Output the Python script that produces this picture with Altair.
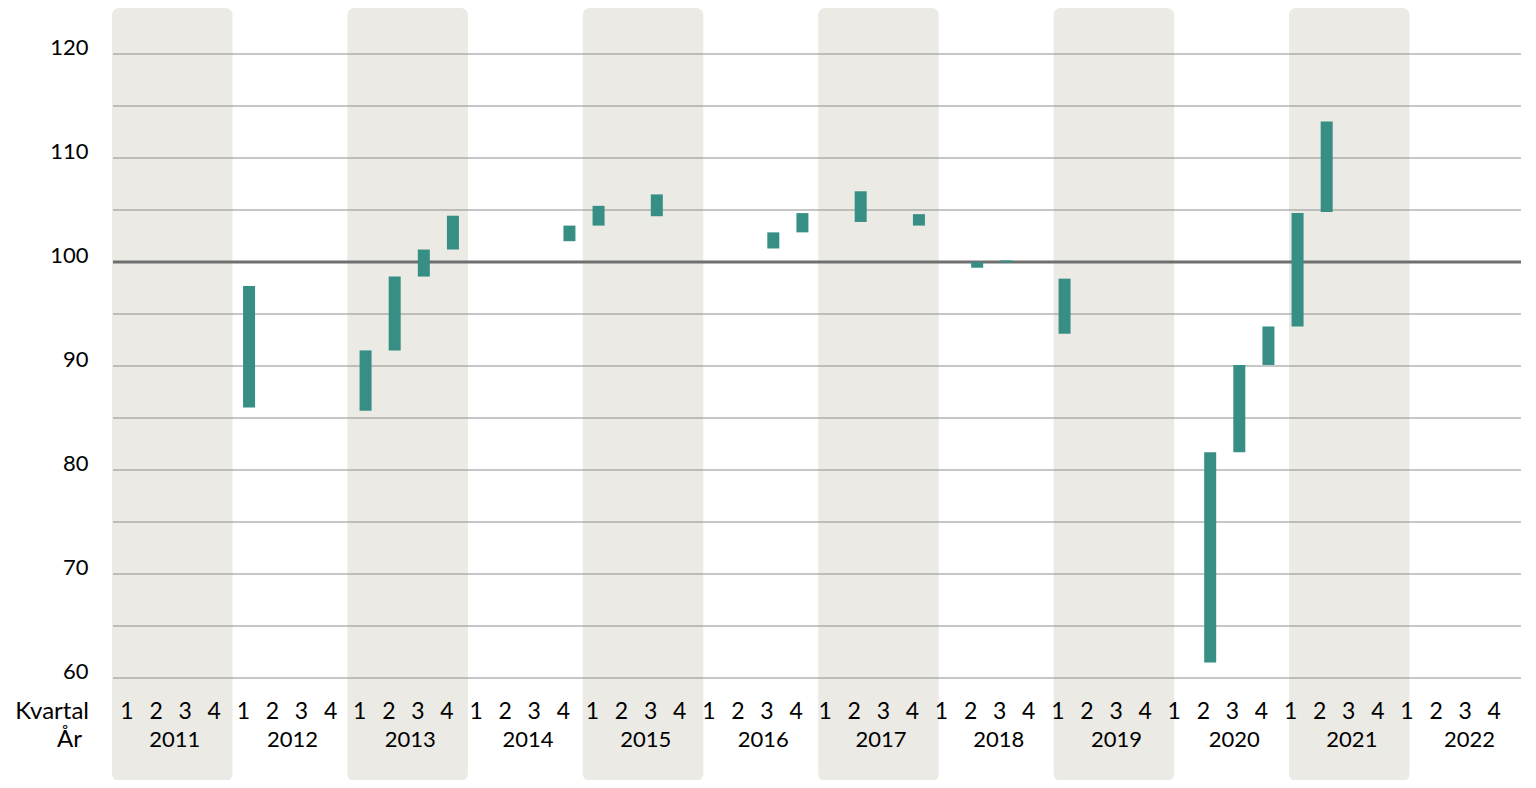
import altair as alt
import pandas as pd

# ---- data -------------------------------------------------------------
years = list(range(2011, 2023))
quarter_numbers = [1, 2, 3, 4]
shaded_years = [2011, 2013, 2015, 2017, 2019, 2021]

bar_year = [2012, 2013, 2013, 2013, 2013, 2014, 2015, 2015, 2016, 2016,
            2017, 2017, 2018, 2018, 2019, 2020, 2020, 2020, 2021, 2021]
bar_quarter = [1, 1, 2, 3, 4, 4, 1, 3, 3, 4,
               2, 4, 2, 3, 1, 2, 3, 4, 1, 2]
bar_low = [86.0, 85.7, 91.5, 98.6, 101.2, 102.0, 103.5, 104.4, 101.3, 102.85,
           103.85, 103.5, 99.45, 99.95, 93.1, 61.5, 81.7, 90.1, 93.8, 104.8]
bar_high = [97.7, 91.5, 98.6, 101.2, 104.45, 103.5, 105.4, 106.5, 102.85, 104.7,
            106.8, 104.6, 100.0, 100.15, 98.4, 81.7, 90.1, 93.8, 104.7, 113.5]

grid_values = [60, 65, 70, 75, 80, 85, 90, 95, 100, 105, 110, 115, 120]
y_label_values = [60, 70, 80, 90, 100, 110, 120]
reference_value = [100]

row_titles = ["Kvartal", "År"]

# ---- tables -----------------------------------------------------------
bars_df = pd.DataFrame({"year": bar_year, "quarter": bar_quarter,
                        "low": bar_low, "high": bar_high})
bars_df["pos"] = (bars_df["year"] - years[0]) * 4 + bars_df["quarter"] - 0.5

q_rows = []
for y in years:
    for q in quarter_numbers:
        q_rows.append({"idx": (y - years[0]) * 4 + q - 1, "label": str(q)})
q_df = pd.DataFrame(q_rows)

band_df = pd.DataFrame({"k": [y - years[0] for y in shaded_years]})
band_df["k2"] = band_df["k"] + 1

year_df = pd.DataFrame({"k": [y - years[0] + 0.5 for y in years],
                        "label": [str(y) for y in years]})

grid_df = pd.DataFrame({"v": grid_values})
ref_df = pd.DataFrame({"v": reference_value})

FONT = "Lato"
TXT = "#000000"
W, H = 1408, 624

yscale = alt.Scale(domain=[60, 120], nice=False, zero=False)
bar_x = alt.Scale(domain=[0, 48], nice=False, zero=False)
year_x = alt.Scale(domain=[0.0085, 11.971], nice=False, zero=False)
qlab_x = alt.Scale(domain=[-0.481, 47.92], nice=False, zero=False)

bands = alt.Chart(band_df).mark_rect(
    color="#EBEAE5", cornerRadius=7, x2Offset=2.8
).encode(
    x=alt.X("k:Q", scale=year_x, axis=None),
    x2="k2:Q",
    y=alt.value(-46),
    y2=alt.value(727),
)

grid = alt.Chart(grid_df).mark_rule(color="#8e8e8e", strokeWidth=1).encode(
    y=alt.Y("v:Q", scale=yscale,
            axis=alt.Axis(values=y_label_values, grid=False, domain=False,
                          ticks=False, labelPadding=25, labelFontSize=22,
                          labelFont=FONT, labelColor=TXT, labelOffset=-7,
                          title=None))
)

ref = alt.Chart(ref_df).mark_rule(color="#6f6f6f", strokeWidth=3).encode(
    y=alt.Y("v:Q", scale=yscale)
)

bars = alt.Chart(bars_df).mark_bar(size=12, color="#378E84").encode(
    x=alt.X("pos:Q", scale=bar_x, axis=None),
    y=alt.Y("low:Q", scale=yscale),
    y2="high:Q",
)

qlabels = alt.Chart(q_df).mark_text(
    font=FONT, fontSize=23, color=TXT, align="center", baseline="middle"
).encode(
    x=alt.X("idx:Q", scale=qlab_x, axis=None),
    y=alt.value(657.5),
    text="label:N",
)

ylabels = alt.Chart(year_df).mark_text(
    font=FONT, fontSize=22, color=TXT, align="center", baseline="middle", dx=4
).encode(
    x=alt.X("k:Q", scale=year_x, axis=None),
    y=alt.value(686),
    text="label:N",
)

kvartal = alt.Chart(pd.DataFrame({"t": [row_titles[0]]})).mark_text(
    font=FONT, fontSize=24, color=TXT, align="right", baseline="middle"
).encode(x=alt.value(-24), y=alt.value(657.5), text="t:N")

aar = alt.Chart(pd.DataFrame({"t": [row_titles[1]]})).mark_text(
    font=FONT, fontSize=24, color=TXT, align="right", baseline="middle"
).encode(x=alt.value(-31), y=alt.value(686), text="t:N")

chart = alt.layer(
    bands, grid, ref, bars, qlabels, ylabels, kvartal, aar
).resolve_scale(
    x="independent"
).properties(
    width=W, height=H,
    autosize=alt.AutoSizeParams(type="none"),
    padding={"left": 105, "top": 46, "right": 7, "bottom": 102},
    background="white",
).configure_view(stroke=None)

chart.save("out.html", embed_options={"renderer": "svg", "actions": False})
